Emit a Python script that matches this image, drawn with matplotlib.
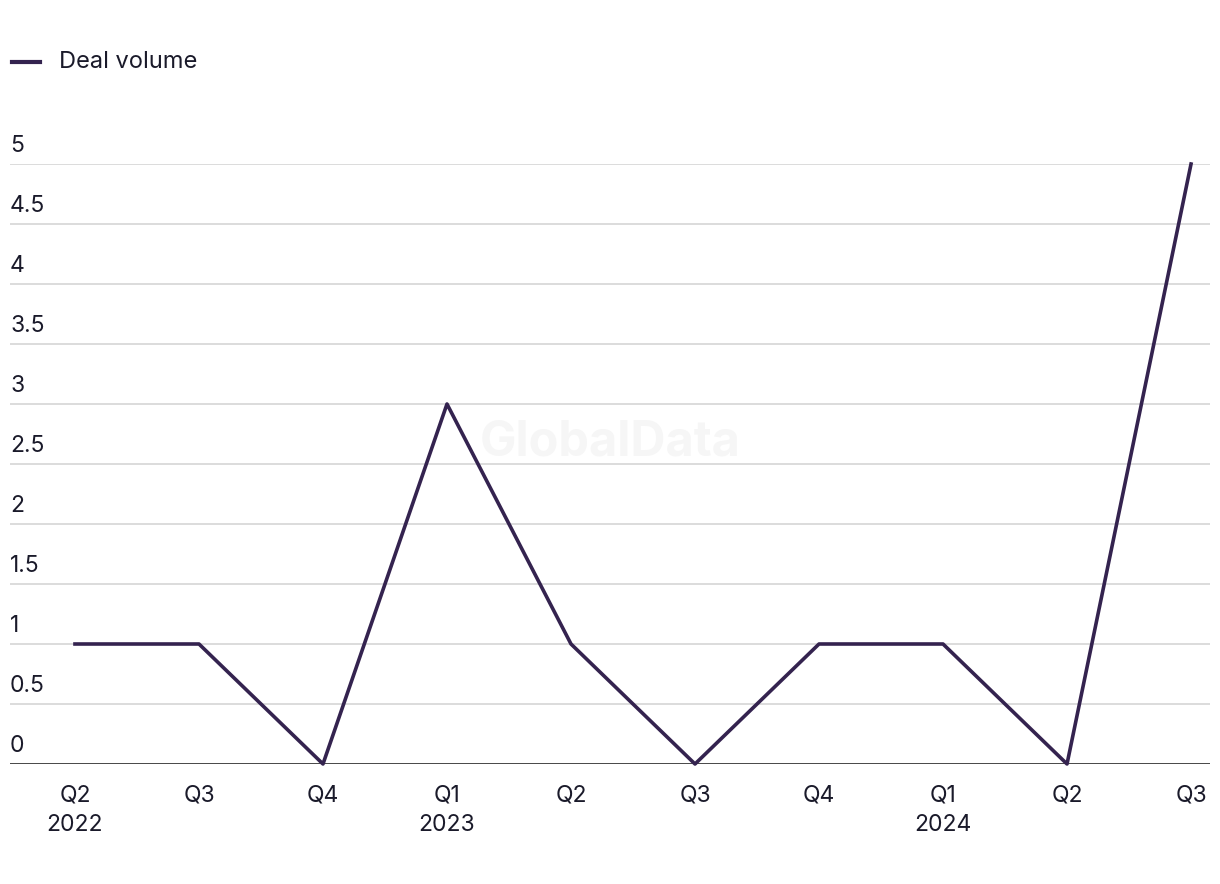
import matplotlib.pyplot as plt
import matplotlib.transforms as mtransforms

quarters = ["Q2\n2022", "Q3", "Q4", "Q1\n2023", "Q2", "Q3", "Q4", "Q1\n2024", "Q2", "Q3"]
deal_volume = [1, 1, 0, 3, 1, 0, 1, 1, 0, 5]
y_ticks = [0, 0.5, 1, 1.5, 2, 2.5, 3, 3.5, 4, 4.5, 5]
y_labels = ["0", "0.5", "1", "1.5", "2", "2.5", "3", "3.5", "4", "4.5", "5"]

plt.rcParams['font.family'] = ['Inter', 'DejaVu Sans']
line_color = '#34234f'
text_color = '#1a1a2a'

fig = plt.figure(figsize=(12.2, 8.84), dpi=100)
ax = fig.add_axes([10 / 1220, 120 / 884, 1200 / 1220, 600 / 884])

x = list(range(len(deal_volume)))
ax.plot(x, deal_volume, color=line_color, linewidth=2.6, clip_on=False, zorder=3)

ax.set_xlim(-0.524, 9.153)
ax.set_ylim(0, 5)

# gridlines with labels sitting above them
ax.set_yticks([])
trans = mtransforms.blended_transform_factory(ax.transAxes, ax.transData)
for t, lab in zip(y_ticks, y_labels):
    if t == 0:
        ax.axhline(t, color='#111111', linewidth=1.8, zorder=2)
    else:
        ax.axhline(t, color='#d9d9d9', linewidth=1.3, zorder=1)
    ax.text(0, t + 0.055, lab, transform=trans, ha='left', va='bottom',
            fontsize=16.5, color=text_color)

ax.set_xticks(x)
ax.set_xticklabels(quarters, fontsize=16.5, color=text_color, linespacing=1.45)
ax.tick_params(axis='x', length=0, pad=15)

for s in ax.spines.values():
    s.set_visible(False)

# watermark
ax.text(0.5, 0.535, "GlobalData", transform=ax.transAxes, ha='center', va='center',
        fontsize=35, fontweight='bold', color='#f6f6f6', zorder=0)

# legend
fig.lines.append(plt.Line2D([12 / 1220, 40 / 1220], [1 - 62 / 884, 1 - 62 / 884],
                            color=line_color, linewidth=3, transform=fig.transFigure))
fig.text(59 / 1220, 1 - 62 / 884, "Deal volume", ha='left', va='center',
         fontsize=17, color=text_color)

fig.savefig("out.png", dpi=100)
